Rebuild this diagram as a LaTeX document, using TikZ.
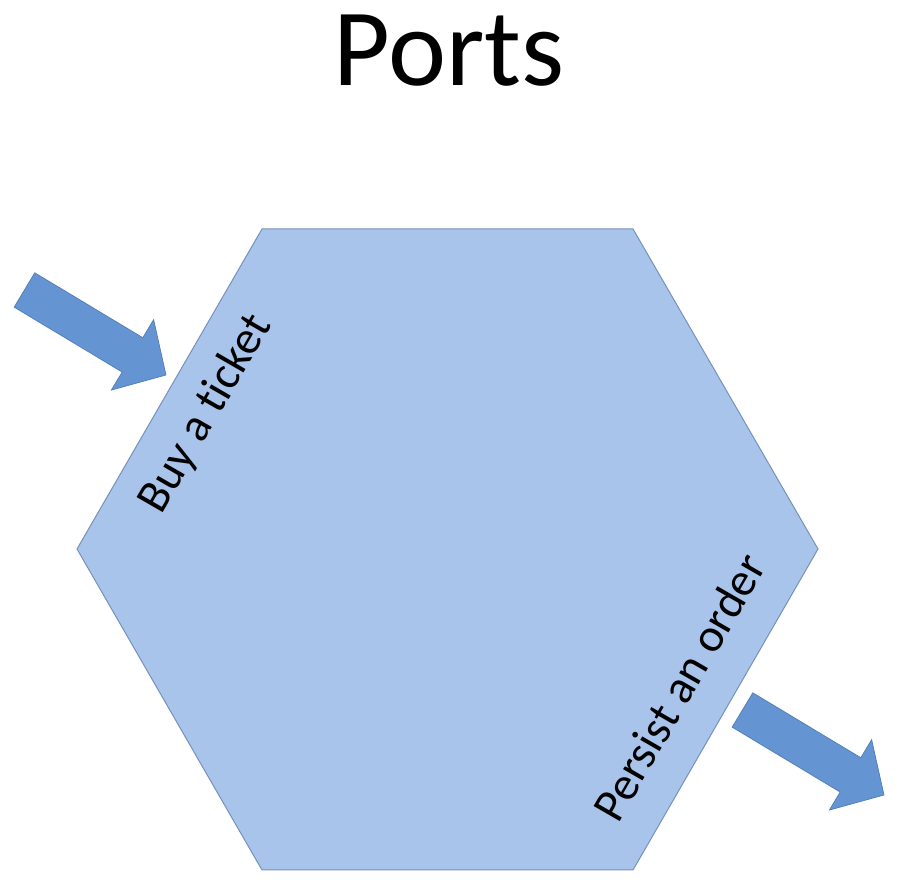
\documentclass[tikz,border=0pt]{standalone}
\usepackage{fontspec}
\setmainfont[Ligatures=NoCommon]{Carlito}
\usepackage{tikz}

\definecolor{hexfill}{RGB}{169,196,234}
\definecolor{hexline}{RGB}{118,146,186}
\definecolor{arrowfill}{RGB}{100,149,210}
\definecolor{arrowline}{RGB}{84,128,186}

\tikzset{
  hexside/.style={fill=hexfill, draw=hexline, line width=1pt},
  portarrow/.style={fill=arrowfill, draw=arrowline, line width=0.8pt},
  portlabel/.style={font=\fontsize{47}{56}\selectfont, rotate=60, inner sep=0pt}
}

% one block arrow, tail middle at the origin, pointing along +x
\newcommand{\blockarrow}{%
  \draw[portarrow] (0, 20) -- (126, 20) -- (126, 41) -- (165, 0)
    -- (126, -41) -- (126, -20) -- (0, -20) -- cycle;}

\begin{document}
\begin{tikzpicture}[x=1pt, y=1pt]
\useasboundingbox (0, 0) rectangle (902, 888);

% the title
\node[anchor=base, font=\fontsize{110}{120}\selectfont] (title) at (449, 802) {Ports};

% the hexagon
\draw[hexside] (262, 659) -- (633, 659) -- (818, 339) -- (633, 18) -- (262, 18) -- (77, 339) -- cycle;

% ports on its sides
\node[portlabel] (buy) at (206, 474) {Buy a ticket};
\node[portlabel] (persist) at (679, 201) {Persist an order};

% arrow in
\begin{scope}[shift={(24.5, 598)}, rotate=-31]
\blockarrow
\end{scope}

% arrow out
\begin{scope}[shift={(742.5, 178)}, rotate=-31]
\blockarrow
\end{scope}
\end{tikzpicture}
\end{document}
